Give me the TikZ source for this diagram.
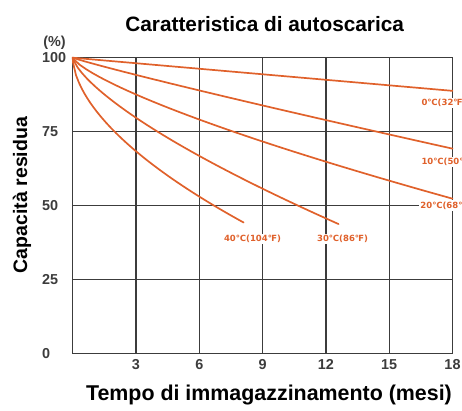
\documentclass[tikz,border=0pt]{standalone}
\usepackage{fontspec}
\setmainfont{Liberation Sans}
\newfontfamily\symfont{DejaVu Sans}
\definecolor{curveorange}{HTML}{E0612B}
\definecolor{gridgray}{HTML}{3C3C3C}
\tikzset{
  gridline/.style={gridgray, line width=1.4pt},
  discharge/.style={curveorange, line width=1.7pt, line cap=round, line join=round},
  templabel/.style={text=curveorange, fill=white, inner sep=1.5pt, font=\symfont\bfseries\fontsize{8.5}{9}\selectfont},
  ticklabel/.style={text=gridgray, inner sep=0pt, font=\bfseries\fontsize{14.4}{15}\selectfont},
}

\begin{document}
\begin{tikzpicture}[x=21.1pt, y=2.96pt]
\useasboundingbox (-72.7pt,-56.3pt) rectangle (389.3pt,353.7pt);
% grid
\foreach \m in {0,3,...,18}
  \draw[gridline] (\m,0) -- (\m,100);
\foreach \p in {0,25,50,75,100}
  \draw[gridline] (0,\p) -- (18,\p);
% self discharge curves, 0 to 40 degrees
\draw[discharge] (0,100) -- (18,88.8);
\draw[discharge] (0,100) -- plot[domain=0.02:18, samples=60] (\x,{100-2.09*\x^0.93});
\draw[discharge] (0,100) -- plot[domain=0.02:18, samples=60] (\x,{100-5.45*\x^0.75});
\draw[discharge] (0,100) -- plot[domain=0.02:12.6, samples=60] (\x,{100-9.3*\x^0.71});
\draw[discharge] (0,100) -- plot[domain=0.02:8.1, samples=60] (\x,{100-16.9*\x^0.57});
% labels of the curves
\node[templabel, anchor=west] (t0) at (16.45,84.7) {0℃(32℉)};
\node[templabel, anchor=west] (t10) at (16.45,64.8) {10℃(50℉)};
\node[templabel, anchor=west] (t20) at (16.4,50) {20℃(68℉)};
\node[templabel] (t40) at (8.52,38.75) {40℃(104℉)};
\node[templabel] (t30) at (12.79,38.75) {30℃(86℉)};
% axes
\foreach \p in {0,25,50,75,100}
  \node[ticklabel, anchor=west] (y\p) at (-1.455,\p) {\p};
\node[ticklabel] (pct) at (-0.86,105) {(\%)};
\foreach \m in {3,6,...,18}
  \node[ticklabel] (x\m) at (\m,-3.8) {\m};
\node[font=\bfseries\fontsize{20.8}{22}\selectfont] (title) at (9.1,111.4) {Caratteristica di autoscarica};
\node[font=\bfseries\fontsize{21.4}{23}\selectfont] (xlabel) at (9.3,-14) {Tempo di immagazzinamento (mesi)};
\node[font=\bfseries\fontsize{19.5}{21}\selectfont, rotate=90] (ylabel) at (-2.4,53.6) {Capacità residua};
\end{tikzpicture}
\end{document}
